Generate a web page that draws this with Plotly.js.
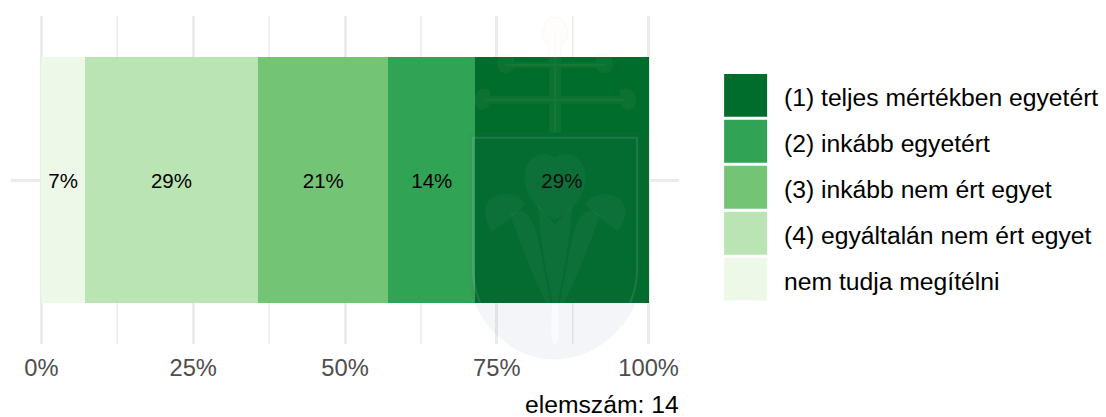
<!DOCTYPE html>
<html><head><meta charset="utf-8">
<script src="https://cdn.plot.ly/plotly-3.0.1.min.js"></script>
<style>html,body{margin:0;padding:0;background:#fff}#c{width:1106px;height:417px}</style>
</head><body><div id="c"></div>
<script>
const categories = ['nem tudja megítélni','(4) egyáltalán nem ért egyet','(3) inkább nem ért egyet','(2) inkább egyetért','(1) teljes mértékben egyetért'];
const values = [7.14,28.57,21.43,14.29,28.57];
const labels = ['7%','29%','21%','14%','29%'];
const colors = ['#EDF8E9','#BAE4B3','#74C476','#31A354','#006D2C'];
const tickVals = [0,25,50,75,100];
const tickText = ['0%','25%','50%','75%','100%'];
const minorVals = [12.5,37.5,62.5,87.5];
const note = 'elemszám: 14';
const W=1106,H=417,L=11.2,T=16,PW=667.7,PH=328.5;
const font='"Liberation Sans", Arial, sans-serif';
// Decorative background crest, drawn faintly over the chart
const crestSvg = `<svg xmlns="http://www.w3.org/2000/svg" width="200" height="350" viewBox="460 15 200 350">
<path d="M468 133H642V270C642 320 600 360 555 360C510 360 468 320 468 270Z" fill="#3c5082" fill-opacity=".06"/>
<path d="M473 138H637V270C637 316 598 354 555 354C512 354 473 316 473 270Z" fill="none" stroke="#fff" stroke-opacity=".1" stroke-width="2"/>
<path d="M549 44A11 11 0 0 1 544 28A11 11 0 0 1 566 28A11 11 0 0 1 561 44V62H596V56A9 9 0 1 1 609 72A9 9 0 0 1 596 68H561V96H620V90A10 10 0 1 1 630 110A10 10 0 0 1 620 104H561V133H549V104H490A10 10 0 0 1 480 110A10 10 0 1 1 490 90V96H549V68H514A9 9 0 0 1 501 72A9 9 0 1 1 514 56V62H549Z" fill="#e8dcb0" fill-opacity=".05" stroke="#806000" stroke-opacity=".04" stroke-width="1"/>
<path d="M555 30V133M505 65H605M485 100H625" fill="none" stroke="#d8d0a0" stroke-opacity=".05" stroke-width="2"/>
<g fill="#fff" fill-opacity=".035">
<path d="M555 220C538 212 522 195 525 172C528 155 545 150 555 158C565 150 582 155 585 172C588 195 572 212 555 220Z"/>
<path d="M492 232C480 215 484 200 496 196C508 192 520 195 525 205C515 215 505 222 492 232Z"/>
<path d="M618 232C630 215 626 200 614 196C602 192 590 195 585 205C595 215 605 222 618 232Z"/>
<path d="M510 215C522 205 532 215 537 235C543 262 548 290 553 318C538 288 525 258 510 215Z"/>
<path d="M600 215C588 205 578 215 573 235C567 262 562 290 557 318C572 288 585 258 600 215Z"/>
<path d="M538 205L555 225L572 205C570 245 562 280 555 318C548 280 540 245 538 205Z"/>
</g>
<path d="M552 304L551 332C551 342 553 345 555 345C557 345 559 342 559 332L558 304Z" fill="#fff" fill-opacity=".55"/>
</svg>`;
const traces = categories.map((c,i)=>({type:'bar',orientation:'h',name:c,y:[0],x:[values[i]],width:[0.9],
  marker:{color:colors[i],line:{width:0}},text:[labels[i]],textposition:'inside',insidetextanchor:'middle',constraintext:'none',
  textangle:0,textfont:{family:font,size:20.5,color:'#000'},hoverinfo:'skip',showlegend:false}));
const shapes = minorVals.map(v=>({type:'line',layer:'below',xref:'x',yref:'paper',x0:v,x1:v,y0:0,y1:1,line:{color:'#EBEBEB',width:1.5}}));
const annotations = [];
const legendTop=74, legendStep=46, sw=43;
categories.slice().reverse().forEach((c,i)=>{
  const y0=legendTop+i*legendStep;
  shapes.push({type:'rect',xref:'paper',yref:'paper',x0:(724-L)/PW,x1:(724+sw-L)/PW,y0:1-(y0-T)/PH,y1:1-(y0+sw-T)/PH,fillcolor:colors[4-i],line:{width:0}});
  annotations.push({xref:'paper',yref:'paper',x:(781.5-L)/PW,y:1-(y0+sw/2+2-T)/PH,text:c,showarrow:false,xanchor:'left',yanchor:'middle',font:{family:font,size:24.7,color:'#000'}});
});
annotations.push({xref:'paper',yref:'paper',x:(681-L)/PW,y:1-(405-T)/PH,text:note,showarrow:false,xanchor:'right',yanchor:'middle',font:{family:font,size:24.7,color:'#000'}});
Plotly.newPlot('c',traces,{
  width:W,height:H,barmode:'stack',paper_bgcolor:'#fff',plot_bgcolor:'#fff',showlegend:false,
  margin:{l:L,t:T,r:W-L-PW,b:H-T-PH,pad:0},
  xaxis:{range:[-5,105],tickvals:tickVals,ticktext:tickText,showgrid:true,gridcolor:'#EBEBEB',gridwidth:3,zeroline:false,showline:false,ticks:'',
    tickfont:{family:font,size:23.7,color:'#4D4D4D'},automargin:false,ticklabelstandoff:7},
  yaxis:{range:[-0.6,0.6],tickvals:[0],showticklabels:false,showgrid:true,gridcolor:'#EBEBEB',gridwidth:3,zeroline:false,showline:false,ticks:''},
  images:[{source:'data:image/svg+xml;charset=utf-8,'+encodeURIComponent(crestSvg),xref:'paper',yref:'paper',
    x:(460-L)/PW,y:1-(15-T)/PH,sizex:200/PW,sizey:350/PH,xanchor:'left',yanchor:'top',sizing:'stretch',layer:'above'}],
  shapes,annotations
},{displayModeBar:false,staticPlot:true});
</script></body></html>
